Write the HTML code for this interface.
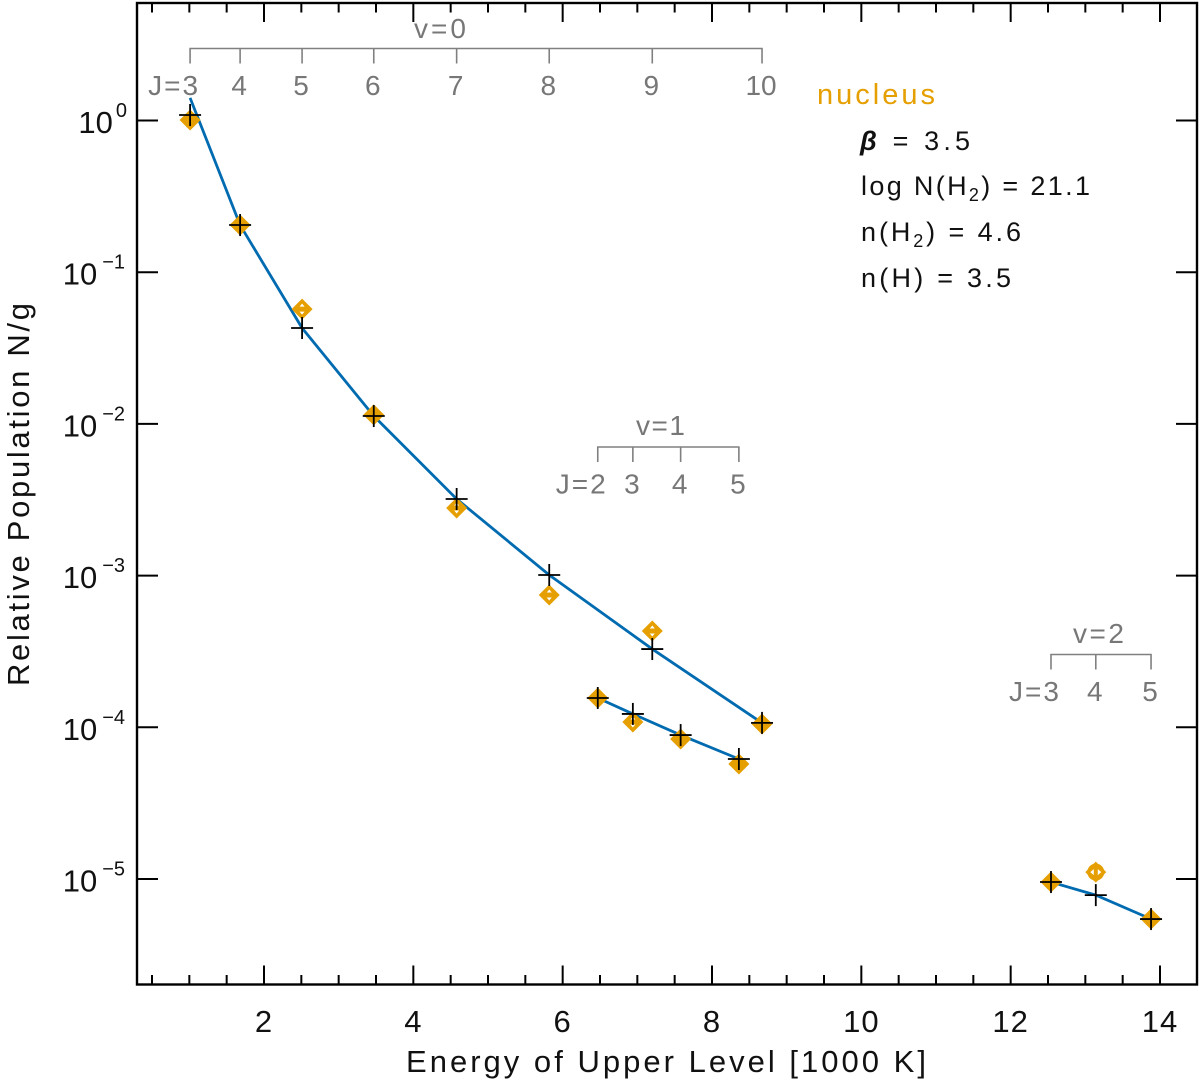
<!DOCTYPE html>
<html lang="en">
<head>
<meta charset="utf-8">
<title>H2 Relative Population</title>
<style>
html,body{margin:0;padding:0;background:#fff;}
svg{display:block;}
text{font-family:"Liberation Sans",sans-serif;}
.gray{fill:#777;font-size:28px;}
.dark{fill:#111;font-size:27px;}
</style>
</head>
<body>
<svg id="chart" xmlns="http://www.w3.org/2000/svg" width="1200" height="1082" viewBox="0 0 1200 1082">
<rect width="1200" height="1082" fill="#fff"/>
<g id="brackets"></g>
<g id="axes"></g>
<g id="marks"></g>

<text x="406" y="1072" font-size="31" fill="#111" textLength="520" lengthAdjust="spacing">Energy of Upper Level [1000 K]</text>
<text transform="translate(29,686) rotate(-90)" font-size="31" fill="#111" textLength="383" lengthAdjust="spacing">Relative Population N/g</text>

<text class="gray" x="414" y="38" textLength="52" lengthAdjust="spacing">v=0</text>
<text class="gray" x="636" y="435" textLength="49" lengthAdjust="spacing">v=1</text>
<text class="gray" x="1073" y="643" textLength="51" lengthAdjust="spacing">v=2</text>

<text x="817" y="104" font-size="29" fill="#E69F00" textLength="118" lengthAdjust="spacing">nucleus</text>
<text class="dark" x="860" y="150" textLength="110" lengthAdjust="spacing"><tspan font-weight="bold" font-style="italic">β</tspan> = 3.5</text>
<text class="dark" x="861" y="195" textLength="229" lengthAdjust="spacing">log N(H<tspan font-size="18" dy="6">2</tspan><tspan dy="-6">) = 21.1</tspan></text>
<text class="dark" x="861" y="241" textLength="160" lengthAdjust="spacing">n(H<tspan font-size="18" dy="6">2</tspan><tspan dy="-6">) = 4.6</tspan></text>
<text class="dark" x="861" y="287" textLength="150" lengthAdjust="spacing">n(H) = 3.5</text>
</svg>
<script>
const xMajorTicks = [2, 4, 6, 8, 10, 12, 14];
const xMinorTicks = [0.5, 1, 1.5, 2.5, 3, 3.5, 4.5, 5, 5.5, 6.5, 7, 7.5, 8.5, 9, 9.5, 10.5, 11, 11.5, 12.5, 13, 13.5];
const yTickExponents = [0, -1, -2, -3, -4, -5];

const energyV0 = [1.01, 1.68, 2.51, 3.47, 4.58, 5.82, 7.20, 8.67];
const modelV0 = [1.087, 0.2046, 0.04285, 0.01127, 0.003199, 0.001009, 3.28e-4, 1.069e-4];
const curveV0 = [1.41, 0.2046, 0.04285, 0.01127, 0.003199, 0.001009, 3.28e-4, 1.069e-4];
const observedV0 = [1.007, 0.2046, 0.0571, 0.01146, 0.00279, 7.45e-4, 4.315e-4, 1.052e-4];
const labelsV0 = ["J=3", "4", "5", "6", "7", "8", "9", "10"];

const energyV1 = [6.47, 6.94, 7.58, 8.36];
const modelV1 = [1.56e-4, 1.225e-4, 8.89e-5, 6.18e-5];
const observedV1 = [1.56e-4, 1.084e-4, 8.375e-5, 5.73e-5];
const labelsV1 = ["J=2", "3", "4", "5"];

const energyV2 = [12.54, 13.14, 13.88];
const modelV2 = [9.55e-6, 7.83e-6, 5.445e-6];
const observedV2 = [9.55e-6, 1.11e-5, 5.445e-6];
const labelsV2 = ["J=3", "4", "5"];

const PLOT = {left: 137, right: 1197, top: 3, bottom: 984.5};
const NS = "http://www.w3.org/2000/svg";

function xAxis(v) { return 264 + (v - 2) * 74.667; }
function yAxis(v) { return 120.5 - Math.log10(v) * 151.7; }
function make(tag, parent) {
  const el = document.createElementNS(NS, tag);
  parent.appendChild(el);
  return el;
}
function segment(parent, x1, y1, x2, y2, color, width) {
  const l = make("line", parent);
  l.setAttribute("x1", x1);
  l.setAttribute("y1", y1);
  l.setAttribute("x2", x2);
  l.setAttribute("y2", y2);
  l.setAttribute("stroke", color);
  l.setAttribute("stroke-width", width);
  return l;
}

const axes = document.getElementById("axes");
const marks = document.getElementById("marks");
const brackets = document.getElementById("brackets");

/* frame */
const frame = make("rect", axes);


frame.setAttribute("x", PLOT.left);
frame.setAttribute("y", PLOT.top);
frame.setAttribute("width", PLOT.right - PLOT.left);
frame.setAttribute("height", PLOT.bottom - PLOT.top);
frame.setAttribute("fill", "none");
frame.setAttribute("stroke", "#000");
frame.setAttribute("stroke-width", "2.4");

/* x ticks */
xMajorTicks.forEach(function (t) {
  const px = xAxis(t);
  const bottomTick = segment(axes, px, PLOT.bottom, px, PLOT.bottom - 19, "#000", 2);
  
  
  const topTick = segment(axes, px, PLOT.top, px, PLOT.top + 19, "#000", 2);
  
  
  const label = make("text", axes);
  
  
  label.setAttribute("x", px);
  label.setAttribute("y", 1032);
  label.setAttribute("text-anchor", "middle");
  label.setAttribute("font-size", "31");
  label.setAttribute("fill", "#111");
  label.setAttribute("letter-spacing", "1");
  label.textContent = String(t);
});
xMinorTicks.forEach(function (t) {
  const px = xAxis(t);
  const bottomTick = segment(axes, px, PLOT.bottom, px, PLOT.bottom - 9.5, "#000", 2);
  
  
  const topTick = segment(axes, px, PLOT.top, px, PLOT.top + 9.5, "#000", 2);
  
  
});

/* y ticks */
yTickExponents.forEach(function (e) {
  const py = yAxis(Math.pow(10, e));
  const leftTick = segment(axes, PLOT.left, py, PLOT.left + 21, py, "#000", 2);
  
  
  const rightTick = segment(axes, PLOT.right, py, PLOT.right - 21, py, "#000", 2);
  
  
  const label = make("text", axes);
  
  
  label.setAttribute("x", e === 0 ? 127 : 125);
  label.setAttribute("y", py + 12.5);
  label.setAttribute("text-anchor", "end");
  label.setAttribute("font-size", "31");
  label.setAttribute("fill", "#111");
  const base = make("tspan", label);
  base.textContent = "10";
  const exp = make("tspan", label);
  exp.setAttribute("dy", "-16");
  exp.setAttribute("dx", e === 0 ? "3" : "5");
  exp.setAttribute("font-size", "20");
  exp.textContent = String(e).replace("-", "\u2212");
});

/* brackets */
function drawBracket(name, energies, labels, yBar) {
  const xs = energies.map(xAxis);
  const bar = segment(brackets, xs[0] - 0.7, yBar, xs[xs.length - 1] + 0.7, yBar, "#808080", 1.6);
  
  
  xs.forEach(function (px, i) {
    const tick = segment(brackets, px, yBar, px, yBar + 15, "#808080", 1.6);
    
    
    const label = make("text", brackets);
    
    
    label.setAttribute("class", "gray");
    label.setAttribute("y", yBar + 46.5);
    if (i === 0) {
      label.setAttribute("x", px + 8);
      label.setAttribute("text-anchor", "end");
      label.setAttribute("textLength", "50");
    } else {
      label.setAttribute("x", px - 1);
      label.setAttribute("text-anchor", "middle");
    }
    label.textContent = labels[i];
  });
}
drawBracket("v0", energyV0, labelsV0, 48.5);
drawBracket("v1", energyV1, labelsV1, 447);
drawBracket("v2", energyV2, labelsV2, 654.5);

/* series */
function drawCurve(name, energies, values) {
  const p = make("polyline", marks);
  
  
  p.setAttribute("fill", "none");
  p.setAttribute("stroke", "#006BB0");
  p.setAttribute("stroke-width", "2.8");
  p.setAttribute("points", energies.map(function (e, i) {
    return xAxis(e) + "," + yAxis(values[i]);
  }).join(" "));
}
function triangle(parent, a, b, c, d, e, f) {
  const t = make("polygon", parent);
  t.setAttribute("fill", "#fff");
  t.setAttribute("points", a + "," + b + " " + c + "," + d + " " + e + "," + f);
  return t;
}
function drawObserved(name, energies, values, model) {
  values.forEach(function (v, i) {
    const cx = xAxis(energies[i]);
    const cy = yAxis(v);
    const d = make("polygon", marks);
    
    
    d.setAttribute("fill", "#E69F00");
    const r = 10.5;
    d.setAttribute("points", (cx - r) + "," + cy + " " + cx + "," + (cy - r) + " " + (cx + r) + "," + cy + " " + cx + "," + (cy + r));
    if (Math.abs(cy - yAxis(model[i])) > 8 && name !== "v2") {
      const up = triangle(marks, cx - 2.5, cy - 2.5, cx + 2.5, cy - 2.5, cx, cy - 5.5);
      
      
      const down = triangle(marks, cx - 2.5, cy + 2.5, cx + 2.5, cy + 2.5, cx, cy + 5.5);
      
      
    }
    if (Math.abs(cy - yAxis(model[i])) > 8 && name === "v2") {
      const disc = make("circle", marks);
      
      
      disc.setAttribute("cx", cx);
      disc.setAttribute("cy", cy);
      disc.setAttribute("r", "8.5");
      disc.setAttribute("fill", "#E69F00");
      const left = triangle(marks, cx - 2, cy - 3, cx - 2, cy + 3, cx - 5.5, cy);
      
      
      const right = triangle(marks, cx + 2, cy - 3, cx + 2, cy + 3, cx + 5.5, cy);
      
      
    }
  });
}
function drawModel(name, energies, values) {
  values.forEach(function (v, i) {
    const cx = xAxis(energies[i]);
    const cy = yAxis(v);
    const h = segment(marks, cx - 11, cy, cx + 11, cy, "#000", 1.8);
    
    
    const w = segment(marks, cx, cy - 11, cx, cy + 11, "#000", 1.8);
    
    
  });
}
drawCurve("v0", energyV0, curveV0);
drawCurve("v1", energyV1, modelV1);
drawCurve("v2", energyV2, modelV2);
drawObserved("v0", energyV0, observedV0, modelV0);
drawObserved("v1", energyV1, observedV1, modelV1);
drawObserved("v2", energyV2, observedV2, modelV2);
drawModel("v0", energyV0, modelV0);
drawModel("v1", energyV1, modelV1);
drawModel("v2", energyV2, modelV2);
</script>
</body>
</html>
